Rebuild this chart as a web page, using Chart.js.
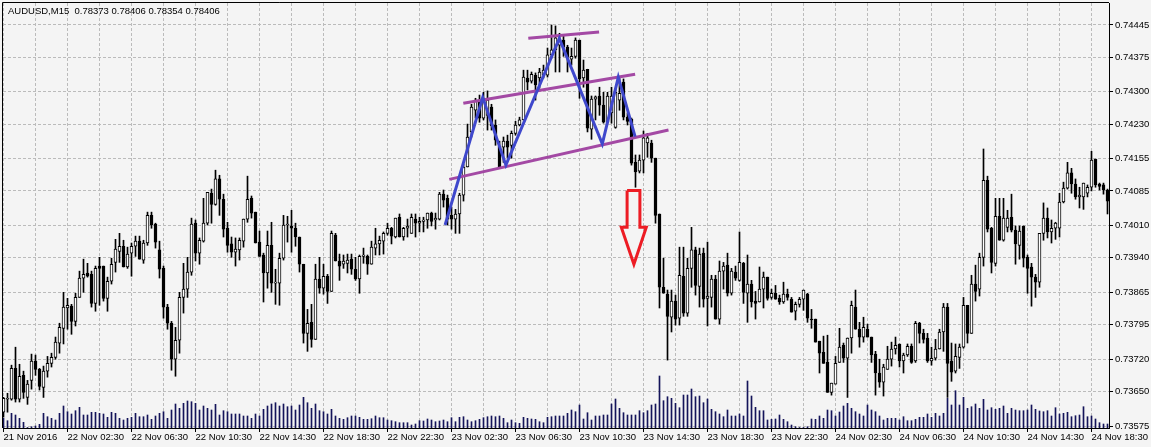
<!DOCTYPE html>
<html>
<head>
<meta charset="utf-8">
<script src="https://cdn.jsdelivr.net/npm/chart.js@4.4.0/dist/chart.umd.min.js"></script>
<style>
  html, body { margin: 0; padding: 0; background: #f4f4f4; }
  #wrap { width: 1151px; height: 447px; }
</style>
</head>
<body>
<div id="wrap"><canvas id="chart" width="1151" height="447"></canvas></div>
<script>
const SYMBOL = 'AUDUSD,M15';
const quote = [0.78373, 0.78406, 0.78354, 0.78406];

// one label every 16 bars (4 hours of M15)
const timeLabels = ['21 Nov 2016', '22 Nov 02:30', '22 Nov 06:30', '22 Nov 10:30', '22 Nov 14:30', '22 Nov 18:30',
  '22 Nov 22:30', '23 Nov 02:30', '23 Nov 06:30', '23 Nov 10:30', '23 Nov 14:30', '23 Nov 18:30',
  '23 Nov 22:30', '24 Nov 02:30', '24 Nov 06:30', '24 Nov 10:30', '24 Nov 14:30', '24 Nov 18:30'];

const priceTicks = [0.73575, 0.73650, 0.73720, 0.73795, 0.73865, 0.73940, 0.74010,
  0.74085, 0.74155, 0.74230, 0.74300, 0.74375, 0.74445];

const open = [
  0.73605, 0.73633, 0.73633, 0.73700, 0.73633, 0.73685, 0.73637, 0.73674, 0.73716, 0.73698,
  0.73659, 0.73694, 0.73711, 0.73724, 0.73755, 0.73787, 0.73831, 0.73835, 0.73802, 0.73854,
  0.73896, 0.73907, 0.73904, 0.73841, 0.73922, 0.73922, 0.73852, 0.73889, 0.73930, 0.73954,
  0.73965, 0.73920, 0.73950, 0.73965, 0.73976, 0.73935, 0.73972, 0.74032, 0.74013, 0.73957,
  0.73917, 0.73833, 0.73798, 0.73720, 0.73761, 0.73854, 0.73872, 0.73909, 0.74015, 0.73950,
  0.73976, 0.74015, 0.74080, 0.74056, 0.74111, 0.74067, 0.74004, 0.73970, 0.73952, 0.73957,
  0.73976, 0.74024, 0.74069, 0.74039, 0.73974, 0.73946, 0.73907, 0.73967, 0.73885, 0.73885,
  0.73939, 0.74011, 0.74009, 0.74004, 0.73985, 0.73926, 0.73776, 0.73800, 0.73763, 0.73894,
  0.73874, 0.73900, 0.73867, 0.73989, 0.73933, 0.73926, 0.73928, 0.73937, 0.73915, 0.73894,
  0.73943, 0.73943, 0.73926, 0.73961, 0.73970, 0.73976, 0.73993, 0.74004, 0.73985, 0.74028,
  0.73985, 0.74004, 0.73993, 0.74024, 0.74015, 0.74019, 0.74022, 0.74037, 0.74022, 0.74024,
  0.74078, 0.74069, 0.74032, 0.74024, 0.74035, 0.74076, 0.74137, 0.74213, 0.74260, 0.74282,
  0.74243, 0.74249, 0.74267, 0.74228, 0.74182, 0.74180, 0.74193, 0.74184, 0.74210, 0.74228,
  0.74239, 0.74330, 0.74323, 0.74336, 0.74330, 0.74336, 0.74336, 0.74380, 0.74391, 0.74401,
  0.74412, 0.74397, 0.74371, 0.74377, 0.74412, 0.74330, 0.74349, 0.74219, 0.74284, 0.74291,
  0.74271, 0.74234, 0.74254, 0.74223, 0.74282, 0.74321, 0.74245, 0.74241, 0.74147, 0.74128,
  0.74152, 0.74189, 0.74189, 0.74156, 0.74035, 0.73876, 0.73861, 0.73811, 0.73846, 0.73809,
  0.73900, 0.73820, 0.73917, 0.73957, 0.73878, 0.73950, 0.73852, 0.73854, 0.73894, 0.73807,
  0.73911, 0.73924, 0.73863, 0.73909, 0.73891, 0.73928, 0.73863, 0.73883, 0.73846, 0.73844,
  0.73872, 0.73898, 0.73854, 0.73863, 0.73852, 0.73844, 0.73861, 0.73850, 0.73824, 0.73839,
  0.73850, 0.73861, 0.73807, 0.73807, 0.73759, 0.73735, 0.73713, 0.73648, 0.73666, 0.73713,
  0.73750, 0.73722, 0.73766, 0.73833, 0.73785, 0.73768, 0.73785, 0.73768, 0.73731, 0.73690,
  0.73670, 0.73698, 0.73720, 0.73742, 0.73753, 0.73716, 0.73729, 0.73748, 0.73716, 0.73798,
  0.73776, 0.73766, 0.73716, 0.73722, 0.73742, 0.73779, 0.73833, 0.73716, 0.73694, 0.73724,
  0.73746, 0.73837, 0.73776, 0.73883, 0.73872, 0.73941, 0.74108, 0.74004, 0.73928, 0.74030,
  0.73978, 0.74006, 0.74028, 0.74000, 0.73967, 0.74009, 0.73941, 0.73920, 0.73898, 0.73887,
  0.73993, 0.74026, 0.73996, 0.74004, 0.74004, 0.74061, 0.74091, 0.74124, 0.74100, 0.74072,
  0.74072, 0.74080, 0.74093, 0.74154, 0.74100, 0.74098, 0.74087
];

const high = [
  0.73637, 0.73646, 0.73707, 0.73746, 0.73709, 0.73694, 0.73674, 0.73731, 0.73729, 0.73700,
  0.73705, 0.73726, 0.73733, 0.73768, 0.73798, 0.73865, 0.73852, 0.73839, 0.73863, 0.73911,
  0.73937, 0.73928, 0.73911, 0.73922, 0.73941, 0.73922, 0.73898, 0.73939, 0.73980, 0.73993,
  0.73978, 0.73963, 0.73972, 0.73987, 0.73987, 0.73978, 0.74039, 0.74039, 0.74015, 0.73976,
  0.73922, 0.73839, 0.73802, 0.73789, 0.73865, 0.73928, 0.73941, 0.74026, 0.74022, 0.73983,
  0.74069, 0.74082, 0.74089, 0.74130, 0.74119, 0.74078, 0.74017, 0.73985, 0.73983, 0.73983,
  0.74024, 0.74117, 0.74074, 0.74039, 0.73998, 0.73950, 0.73998, 0.74017, 0.73915, 0.73950,
  0.74032, 0.74030, 0.74043, 0.74015, 0.73985, 0.73926, 0.73828, 0.73839, 0.73926, 0.73941,
  0.73926, 0.73904, 0.73998, 0.73993, 0.73948, 0.73946, 0.73948, 0.73948, 0.73941, 0.73946,
  0.73961, 0.73946, 0.73976, 0.74004, 0.73987, 0.73996, 0.74015, 0.74006, 0.74026, 0.74035,
  0.74006, 0.74024, 0.74035, 0.74035, 0.74028, 0.74028, 0.74037, 0.74039, 0.74037, 0.74082,
  0.74087, 0.74076, 0.74050, 0.74045, 0.74080, 0.74143, 0.74230, 0.74273, 0.74286, 0.74293,
  0.74299, 0.74302, 0.74273, 0.74239, 0.74193, 0.74202, 0.74206, 0.74215, 0.74236, 0.74245,
  0.74347, 0.74347, 0.74343, 0.74341, 0.74351, 0.74358, 0.74395, 0.74445, 0.74443, 0.74427,
  0.74421, 0.74401, 0.74395, 0.74417, 0.74412, 0.74369, 0.74349, 0.74291, 0.74291, 0.74310,
  0.74299, 0.74299, 0.74310, 0.74308, 0.74332, 0.74328, 0.74254, 0.74243, 0.74163, 0.74163,
  0.74215, 0.74210, 0.74195, 0.74156, 0.74035, 0.73939, 0.73870, 0.73870, 0.73859, 0.73963,
  0.73963, 0.73939, 0.74006, 0.73963, 0.73961, 0.73961, 0.73974, 0.73902, 0.73902, 0.73933,
  0.73930, 0.73950, 0.73917, 0.73922, 0.73996, 0.73930, 0.73946, 0.73891, 0.73867, 0.73920,
  0.73909, 0.73898, 0.73872, 0.73880, 0.73859, 0.73887, 0.73872, 0.73854, 0.73844, 0.73854,
  0.73870, 0.73863, 0.73828, 0.73807, 0.73759, 0.73770, 0.73772, 0.73668, 0.73726, 0.73787,
  0.73755, 0.73766, 0.73846, 0.73870, 0.73800, 0.73811, 0.73796, 0.73768, 0.73737, 0.73720,
  0.73709, 0.73748, 0.73757, 0.73768, 0.73753, 0.73733, 0.73753, 0.73753, 0.73802, 0.73800,
  0.73785, 0.73776, 0.73746, 0.73763, 0.73785, 0.73841, 0.73841, 0.73755, 0.73753, 0.73753,
  0.73854, 0.73837, 0.73902, 0.73924, 0.73950, 0.74176, 0.74117, 0.74006, 0.74069, 0.74069,
  0.74069, 0.74043, 0.74078, 0.74009, 0.74009, 0.74009, 0.73946, 0.73928, 0.73904, 0.73993,
  0.74059, 0.74048, 0.74022, 0.74017, 0.74080, 0.74104, 0.74147, 0.74134, 0.74111, 0.74093,
  0.74102, 0.74098, 0.74171, 0.74154, 0.74102, 0.74102, 0.74089
];

const low = [
  0.73594, 0.73605, 0.73631, 0.73627, 0.73627, 0.73635, 0.73622, 0.73655, 0.73685, 0.73653,
  0.73637, 0.73681, 0.73703, 0.73720, 0.73733, 0.73753, 0.73785, 0.73774, 0.73792, 0.73854,
  0.73865, 0.73898, 0.73833, 0.73824, 0.73837, 0.73846, 0.73824, 0.73883, 0.73909, 0.73930,
  0.73920, 0.73917, 0.73900, 0.73943, 0.73937, 0.73928, 0.73967, 0.74004, 0.73961, 0.73896,
  0.73809, 0.73785, 0.73696, 0.73683, 0.73733, 0.73820, 0.73854, 0.73902, 0.73933, 0.73926,
  0.73974, 0.74011, 0.74015, 0.74054, 0.74032, 0.73985, 0.73952, 0.73941, 0.73922, 0.73935,
  0.73963, 0.74017, 0.74026, 0.73972, 0.73943, 0.73844, 0.73874, 0.73865, 0.73839, 0.73837,
  0.73935, 0.73974, 0.73952, 0.73965, 0.73909, 0.73755, 0.73737, 0.73746, 0.73763, 0.73863,
  0.73861, 0.73841, 0.73867, 0.73933, 0.73891, 0.73917, 0.73907, 0.73904, 0.73891, 0.73863,
  0.73928, 0.73904, 0.73926, 0.73946, 0.73946, 0.73948, 0.73989, 0.73970, 0.73983, 0.73985,
  0.73978, 0.73985, 0.73993, 0.73985, 0.73996, 0.73996, 0.74004, 0.74009, 0.74002, 0.74022,
  0.74050, 0.74011, 0.74002, 0.73993, 0.73993, 0.74063, 0.74137, 0.74202, 0.74243, 0.74234,
  0.74239, 0.74217, 0.74217, 0.74184, 0.74137, 0.74147, 0.74156, 0.74156, 0.74206, 0.74226,
  0.74239, 0.74304, 0.74319, 0.74282, 0.74308, 0.74330, 0.74332, 0.74373, 0.74343, 0.74343,
  0.74377, 0.74343, 0.74358, 0.74373, 0.74286, 0.74310, 0.74213, 0.74197, 0.74239, 0.74249,
  0.74232, 0.74232, 0.74232, 0.74221, 0.74260, 0.74239, 0.74228, 0.74141, 0.74093, 0.74124,
  0.74124, 0.74158, 0.74147, 0.74015, 0.73831, 0.73863, 0.73718, 0.73779, 0.73794, 0.73794,
  0.73813, 0.73813, 0.73876, 0.73859, 0.73833, 0.73833, 0.73792, 0.73833, 0.73807, 0.73796,
  0.73872, 0.73857, 0.73859, 0.73891, 0.73889, 0.73841, 0.73800, 0.73833, 0.73807, 0.73844,
  0.73831, 0.73848, 0.73850, 0.73850, 0.73839, 0.73841, 0.73848, 0.73822, 0.73805, 0.73833,
  0.73826, 0.73800, 0.73787, 0.73757, 0.73690, 0.73711, 0.73648, 0.73642, 0.73666, 0.73713,
  0.73713, 0.73637, 0.73733, 0.73785, 0.73746, 0.73757, 0.73768, 0.73713, 0.73642, 0.73659,
  0.73640, 0.73698, 0.73705, 0.73731, 0.73703, 0.73690, 0.73726, 0.73711, 0.73713, 0.73755,
  0.73755, 0.73713, 0.73707, 0.73718, 0.73742, 0.73737, 0.73637, 0.73672, 0.73690, 0.73700,
  0.73744, 0.73755, 0.73776, 0.73846, 0.73857, 0.73922, 0.73996, 0.73907, 0.73922, 0.73978,
  0.73976, 0.73996, 0.73996, 0.73926, 0.73937, 0.73920, 0.73863, 0.73835, 0.73854, 0.73876,
  0.73978, 0.73983, 0.73972, 0.73980, 0.73985, 0.74059, 0.74089, 0.74080, 0.74067, 0.74048,
  0.74045, 0.74072, 0.74085, 0.74093, 0.74087, 0.74078, 0.74035
];

const close = [
  0.73635, 0.73635, 0.73700, 0.73633, 0.73683, 0.73648, 0.73666, 0.73716, 0.73698, 0.73661,
  0.73694, 0.73711, 0.73724, 0.73757, 0.73789, 0.73833, 0.73837, 0.73802, 0.73854, 0.73896,
  0.73904, 0.73900, 0.73841, 0.73917, 0.73917, 0.73852, 0.73889, 0.73926, 0.73959, 0.73965,
  0.73920, 0.73948, 0.73965, 0.73976, 0.73937, 0.73972, 0.74032, 0.74011, 0.73974, 0.73915,
  0.73833, 0.73798, 0.73720, 0.73761, 0.73854, 0.73872, 0.73909, 0.74013, 0.73950, 0.73978,
  0.74015, 0.74082, 0.74056, 0.74111, 0.74067, 0.74002, 0.73967, 0.73952, 0.73959, 0.73978,
  0.74024, 0.74067, 0.74037, 0.73972, 0.73943, 0.73907, 0.73967, 0.73885, 0.73887, 0.73939,
  0.74011, 0.74013, 0.74004, 0.73985, 0.73926, 0.73776, 0.73798, 0.73763, 0.73894, 0.73874,
  0.73900, 0.73867, 0.73993, 0.73933, 0.73922, 0.73933, 0.73935, 0.73915, 0.73894, 0.73943,
  0.73946, 0.73926, 0.73963, 0.73970, 0.73978, 0.73993, 0.74004, 0.73987, 0.74026, 0.73985,
  0.74004, 0.74009, 0.74028, 0.74015, 0.74019, 0.74022, 0.74037, 0.74019, 0.74026, 0.74078,
  0.74065, 0.74024, 0.74024, 0.74035, 0.74076, 0.74137, 0.74202, 0.74267, 0.74282, 0.74243,
  0.74286, 0.74282, 0.74226, 0.74195, 0.74137, 0.74193, 0.74180, 0.74210, 0.74228, 0.74239,
  0.74332, 0.74321, 0.74338, 0.74315, 0.74343, 0.74347, 0.74380, 0.74391, 0.74417, 0.74412,
  0.74397, 0.74375, 0.74377, 0.74412, 0.74328, 0.74347, 0.74221, 0.74284, 0.74289, 0.74271,
  0.74234, 0.74291, 0.74291, 0.74299, 0.74297, 0.74245, 0.74236, 0.74145, 0.74126, 0.74152,
  0.74200, 0.74200, 0.74156, 0.74032, 0.73876, 0.73863, 0.73813, 0.73846, 0.73807, 0.73902,
  0.73820, 0.73917, 0.73957, 0.73880, 0.73948, 0.73850, 0.73857, 0.73894, 0.73807, 0.73911,
  0.73922, 0.73863, 0.73911, 0.73896, 0.73930, 0.73865, 0.73883, 0.73844, 0.73841, 0.73872,
  0.73898, 0.73852, 0.73863, 0.73850, 0.73844, 0.73861, 0.73854, 0.73822, 0.73839, 0.73850,
  0.73870, 0.73809, 0.73805, 0.73757, 0.73733, 0.73711, 0.73648, 0.73668, 0.73711, 0.73746,
  0.73722, 0.73766, 0.73837, 0.73785, 0.73768, 0.73789, 0.73768, 0.73729, 0.73690, 0.73670,
  0.73703, 0.73720, 0.73742, 0.73750, 0.73716, 0.73729, 0.73748, 0.73713, 0.73798, 0.73776,
  0.73763, 0.73716, 0.73722, 0.73742, 0.73779, 0.73833, 0.73711, 0.73692, 0.73726, 0.73746,
  0.73837, 0.73776, 0.73883, 0.73867, 0.73941, 0.74108, 0.74002, 0.73930, 0.74030, 0.73978,
  0.74026, 0.74026, 0.74000, 0.73970, 0.73998, 0.73939, 0.73917, 0.73898, 0.73887, 0.73993,
  0.74026, 0.73996, 0.74004, 0.74015, 0.74061, 0.74091, 0.74124, 0.74100, 0.74072, 0.74076,
  0.74102, 0.74093, 0.74152, 0.74098, 0.74095, 0.74087, 0.74063
];

const volume = [
  97, 73, 147, 130, 97, 57, 5, 13, 20, 37,
  147, 113, 97, 80, 147, 220, 163, 140, 173, 207,
  130, 130, 157, 157, 147, 140, 107, 157, 147, 97,
  80, 97, 107, 147, 113, 113, 130, 87, 120, 147,
  163, 97, 180, 240, 197, 247, 270, 263, 247, 180,
  220, 197, 180, 237, 130, 173, 163, 140, 140, 140,
  120, 120, 97, 140, 120, 187, 220, 240, 253, 220,
  240, 213, 220, 180, 230, 307, 253, 197, 240, 173,
  163, 140, 187, 120, 97, 87, 103, 120, 120, 107,
  87, 87, 93, 120, 103, 103, 80, 73, 63, 53,
  53, 53, 30, 40, 73, 70, 90, 80, 63, 70,
  80, 63, 103, 63, 107, 113, 80, 63, 73, 87,
  103, 113, 120, 113, 120, 97, 53, 80, 53, 47,
  107, 97, 90, 87, 63, 53, 107, 113, 120, 120,
  120, 147, 180, 163, 230, 90, 153, 80, 120, 120,
  130, 130, 240, 290, 197, 153, 130, 130, 130, 173,
  153, 173, 230, 240, 520, 273, 313, 297, 247, 203,
  330, 330, 390, 313, 320, 253, 290, 187, 163, 140,
  113, 180, 120, 120, 140, 120, 470, 320, 207, 173,
  173, 80, 87, 90, 130, 87, 63, 30, 13, 5,
  5, 13, 90, 87, 120, 97, 180, 173, 120, 160,
  220, 247, 197, 163, 140, 120, 230, 180, 163, 120,
  80, 97, 97, 97, 80, 113, 73, 73, 87, 107,
  107, 140, 107, 147, 120, 147, 297, 230, 373, 230,
  307, 197, 213, 240, 197, 287, 180, 203, 187, 197,
  220, 147, 197, 180, 173, 173, 180, 230, 187, 170,
  163, 173, 120, 203, 140, 147, 157, 113, 123, 130,
  213, 113, 120, 90, 53, 40, 40
];

// hand-drawn pattern, in bar index / price
const neckX = [111.45, 166.25];
const neckY = [0.74110, 0.74217];
const shoulderX = [114.95, 157.9];
const shoulderY = [0.74275, 0.74338];
const headX = [131.2, 148.9];
const headY = [0.74416, 0.74430];
const zigzagX = [110.4, 119.8, 125.6, 138.95, 149.7, 153.7, 157.9];
const zigzagY = [0.74011, 0.74288, 0.74141, 0.74416, 0.74187, 0.74332, 0.74203];
const arrowX = [155.9, 159.1, 159.1, 160.7, 157.6, 154.45, 155.9, 155.9];
const arrowY = [0.74086, 0.74086, 0.74006, 0.74006, 0.73926, 0.74006, 0.74006, 0.74086];

const FONT = { family: '"Liberation Sans", Arial, sans-serif', size: 9.5 };

function points(xs, ys) {
    return xs.map((x, i) => ({ x: x, y: ys[i] }));
}

function lineSet(xs, ys, color, order) {
    return {
        type: 'line',
        data: points(xs, ys),
        borderColor: color,
        borderWidth: 3,
        pointRadius: 0,
        tension: 0,
        fill: false,
        order: order,
        borderJoinStyle: 'miter'
    };
}

const bars = open.map((_, i) => i);

const frame = {
    id: 'frame',
    beforeDraw(chart) {
        const ctx = chart.ctx;
        ctx.save();
        ctx.fillStyle = '#f4f4f4';
        ctx.fillRect(0, 0, chart.width, chart.height);
        ctx.restore();
    },
    afterDraw(chart) {
        const ctx = chart.ctx;
        const a = chart.chartArea;
        ctx.save();
        ctx.strokeStyle = '#000';
        ctx.lineWidth = 1;
        ctx.beginPath();
        ctx.moveTo(a.left - 0.5, a.bottom);
        ctx.lineTo(a.left - 0.5, a.top - 0.5);
        ctx.lineTo(a.right, a.top - 0.5);
        ctx.stroke();
        ctx.fillStyle = '#000';
        ctx.font = FONT.size + 'px ' + FONT.family;
        ctx.textBaseline = 'middle';
        ctx.fillText(SYMBOL + '  ' + quote.map(v => v.toFixed(5)).join(' '), a.left + 5, a.top + 8);
        ctx.restore();
    }
};

new Chart(document.getElementById('chart'), {
    type: 'bar',
    data: {
        datasets: [
            {
                label: 'Volume',
                data: bars.map(i => ({ x: i, y: volume[i] })),
                yAxisID: 'yv',
                backgroundColor: '#14145a',
                barThickness: 1,
                grouped: false,
                order: 6
            },
            {
                label: 'Wick',
                data: bars.map(i => ({ x: i, y: [low[i], high[i]] })),
                backgroundColor: '#000',
                barThickness: 1,
                minBarLength: 1,
                grouped: false,
                order: 5
            },
            {
                label: 'Body',
                data: bars.map(i => ({ x: i, y: [open[i], close[i]] })),
                backgroundColor: bars.map(i => close[i] >= open[i] ? '#ffffff' : '#000000'),
                borderColor: '#000',
                borderWidth: 1,
                borderSkipped: false,
                barThickness: 3,
                minBarLength: 1,
                grouped: false,
                order: 4
            },
            lineSet(neckX, neckY, '#a349a4', 3),
            lineSet(shoulderX, shoulderY, '#a349a4', 3),
            lineSet(headX, headY, '#a349a4', 3),
            lineSet(zigzagX, zigzagY, '#3f48cc', 2),
            lineSet(arrowX, arrowY, '#ed1c24', 1)
        ]
    },
    options: {
        responsive: false,
        animation: false,
        devicePixelRatio: 1,
        layout: { padding: { left: 3, top: 3, right: 0, bottom: 0 } },
        plugins: { legend: { display: false }, tooltip: { enabled: false } },
        scales: {
            x: {
                type: 'linear',
                min: -0.125,
                max: 276.375,
                offset: false,
                afterBuildTicks(scale) {
                    const t = [];
                    for (let v = 0; v <= 272; v += 8) t.push({ value: v });
                    scale.ticks = t;
                },
                afterFit(scale) {
                    scale.height = 19;
                    scale.paddingLeft = 0;
                    scale.paddingRight = 0;
                },
                ticks: {
                    autoSkip: false,
                    maxRotation: 0,
                    align: 'start',
                    padding: 0,
                    color: '#000',
                    font: FONT,
                    callback: v => (v % 16 === 0 ? timeLabels[v / 16] : '')
                },
                grid: {
                    offset: false,
                    color: '#bbbbbb',
                    tickLength: 4,
                    tickColor: c => (c.tick && c.tick.value % 16 === 0 ? '#000' : 'rgba(0,0,0,0)'),
                    tickBorderDash: []
                },
                border: { display: true, color: '#000', width: 1, dash: [3, 2] }
            },
            y: {
                position: 'right',
                min: 0.735707,
                max: 0.744927,
                afterBuildTicks(scale) {
                    scale.ticks = priceTicks.map(v => ({ value: v }));
                },
                afterFit(scale) {
                    scale.width = 42;
                    scale.paddingTop = 0;
                    scale.paddingBottom = 0;
                },
                ticks: {
                    padding: 2,
                    color: '#000',
                    font: FONT,
                    callback: v => v.toFixed(5)
                },
                grid: {
                    color: '#bbbbbb',
                    tickLength: 4,
                    tickColor: '#000',
                    tickBorderDash: []
                },
                border: { display: true, color: '#000', width: 1, dash: [3, 2] }
            },
            yv: {
                display: false,
                min: 0,
                max: 4250
            }
        }
    },
    plugins: [frame]
});
</script>
</body>
</html>
